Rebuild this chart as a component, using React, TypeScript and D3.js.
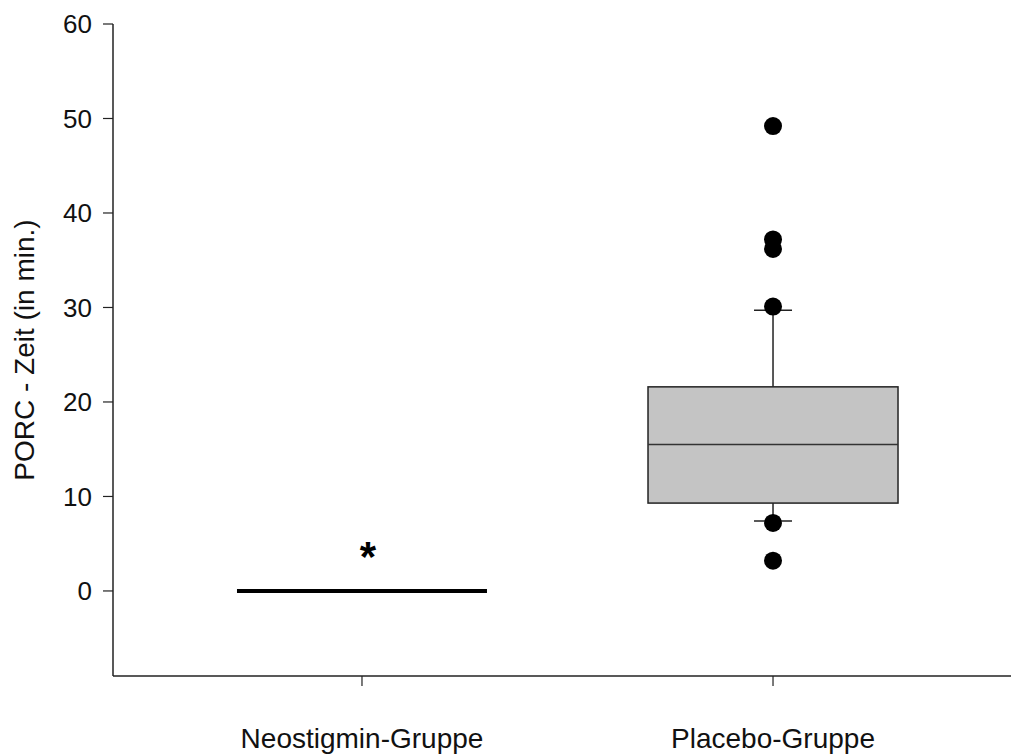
import React from "react";
import * as d3 from "d3";

// groups and box statistics (minutes)
const categories = ["Neostigmin-Gruppe", "Placebo-Gruppe"];
const whiskerLow = [0, 7.4];
const q1 = [0, 9.3];
const median = [0, 15.5];
const q3 = [0, 21.6];
const whiskerHigh = [0, 29.7];
const outliers = [[], [49.2, 37.2, 36.2, 30.1, 7.2, 3.2]];
const yTicks = [0, 10, 20, 30, 40, 50, 60];
const marks = ["*", ""];

const width = 1011;
const height = 756;

export default function App() {
  const left = 113;
  const bottom = 676;

  const y = d3.scaleLinear().domain([-9, 60]).range([bottom, 24]);
  const x = d3
    .scalePoint<string>()
    .domain(categories)
    .range([124, width])
    .padding(0.579);
  const boxW = 250;
  const capW = 38;
  const font = "Arial, 'Liberation Sans', sans-serif";

  return (
    <svg
      width={width}
      height={height}
      style={{ position: "absolute", left: 0, top: 0, background: "#fff" }}
      fontFamily={font}
    >
      {/* axes */}
      <line x1={left} x2={left} y1={y(60)} y2={bottom} stroke="#222" strokeWidth={1.5} />
      <line x1={left} x2={width} y1={bottom} y2={bottom} stroke="#222" strokeWidth={1.5} />
      {yTicks.map((t) => (
        <g key={t}>
          <line x1={left - 10} x2={left} y1={y(t)} y2={y(t)} stroke="#222" strokeWidth={1.2} />
          <text x={92} y={y(t)} dy="0.35em" textAnchor="end" fontSize={26} fill="#111">
            {t}
          </text>
        </g>
      ))}
      {categories.map((c) => (
        <g key={c}>
          <line x1={x(c)} x2={x(c)} y1={bottom} y2={bottom + 10} stroke="#222" strokeWidth={1.2} />
          <text x={x(c)} y={748} textAnchor="middle" fontSize={28} fill="#111">
            {c}
          </text>
        </g>
      ))}
      <text
        transform={`translate(34,${(y(60) + bottom) / 2}) rotate(-90)`}
        textAnchor="middle"
        fontSize={28}
        fill="#111"
      >
        PORC - Zeit (in min.)
      </text>

      {/* boxes */}
      {categories.map((c, i) => {
        const cx = x(c) as number;
        if (q1[i] === q3[i]) {
          return (
            <g key={c}>
              <line x1={cx - boxW / 2} x2={cx + boxW / 2} y1={y(median[i])} y2={y(median[i])} stroke="#000" strokeWidth={4} />
              <text x={cx + 6} y={y(median[i]) - 20} textAnchor="middle" fontSize={42} fontWeight="bold" fill="#000">
                {marks[i]}
              </text>
            </g>
          );
        }
        return (
          <g key={c}>
            <line x1={cx} x2={cx} y1={y(q3[i])} y2={y(whiskerHigh[i])} stroke="#222" strokeWidth={1.5} />
            <line x1={cx} x2={cx} y1={y(q1[i])} y2={y(whiskerLow[i])} stroke="#222" strokeWidth={1.5} />
            <line x1={cx - capW / 2} x2={cx + capW / 2} y1={y(whiskerHigh[i])} y2={y(whiskerHigh[i])} stroke="#222" strokeWidth={1.5} />
            <line x1={cx - capW / 2} x2={cx + capW / 2} y1={y(whiskerLow[i])} y2={y(whiskerLow[i])} stroke="#222" strokeWidth={1.5} />
            <rect
              x={cx - boxW / 2}
              y={y(q3[i])}
              width={boxW}
              height={y(q1[i]) - y(q3[i])}
              fill="#c4c4c4"
              stroke="#222"
              strokeWidth={1.5}
            />
            <line x1={cx - boxW / 2} x2={cx + boxW / 2} y1={y(median[i])} y2={y(median[i])} stroke="#333" strokeWidth={1.5} />
            {outliers[i].map((v, j) => (
              <circle key={j} cx={cx} cy={y(v)} r={9} fill="#000" />
            ))}
          </g>
        );
      })}
    </svg>
  );
}
